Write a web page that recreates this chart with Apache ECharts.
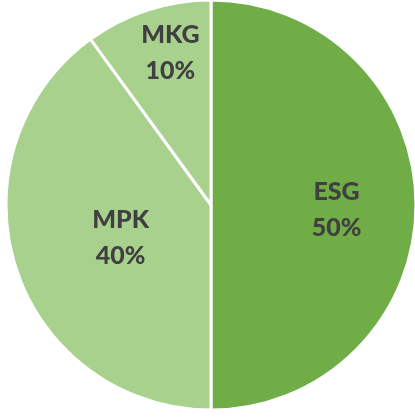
<!DOCTYPE html>
<html>
<head>
<meta charset="utf-8">
<script src="https://cdn.jsdelivr.net/npm/echarts@6/dist/echarts.min.js"></script>
<style>html,body{margin:0;padding:0;background:#fff;}#c{width:415px;height:418px;}</style>
</head>
<body>
<div id="c"></div>
<script>
var categories = ['ESG', 'MPK', 'MKG'];
var values = [50, 40, 10];
var colors = ['#70AD47', '#A9D18E', '#A9D18E'];
var labelShift = [[20, 5], [10, 0], [-8, -52]];

var chart = echarts.init(document.getElementById('c'), null, {renderer: 'canvas'});
chart.setOption({
  animation: false,
  series: [{
    type: 'pie',
    center: [211, 205],
    radius: [0, 205],
    startAngle: 90,
    clockwise: true,
    data: categories.map(function (c, i) {
      return {name: c, value: values[i], itemStyle: {color: colors[i]}};
    }),
    itemStyle: {borderColor: '#ffffff', borderWidth: 3},
    label: {
      show: true,
      position: 'inside',
      formatter: '{b}\n{d}%',
      fontFamily: 'Lato',
      fontWeight: 900,
      fontSize: 25,
      lineHeight: 36,
      color: '#404040'
    },
    labelLine: {show: false},
    emphasis: {disabled: true},
    labelLayout: function (p) {
      var s = labelShift[p.dataIndex];
      return {dx: s[0], dy: s[1]};
    }
  }]
});
</script>
</body>
</html>
